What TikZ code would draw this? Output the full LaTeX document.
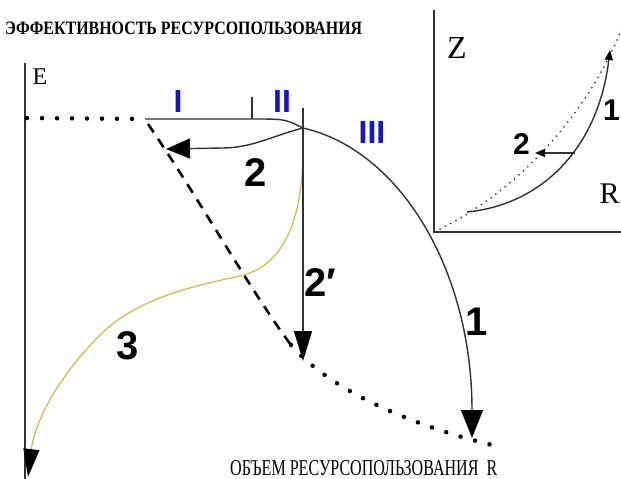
\documentclass[tikz,border=0pt]{standalone}
\usepackage{fontspec}
\usepackage{graphicx}
\setmainfont{Liberation Serif}
\newfontfamily\lsans{Liberation Sans}
\usetikzlibrary{arrows.meta}
\definecolor{lineclr}{RGB}{50,50,50}
\definecolor{yel}{RGB}{205,185,80}
\definecolor{romblue}{RGB}{20,20,200}
\begin{document}
\begin{tikzpicture}[x=1pt,y=-1pt,
  ln/.style={line width=1.4pt, draw=lineclr},
  bigtip/.style={-{Triangle[width=22pt,length=28pt,color=black]}},
  midtip/.style={-{Triangle[width=20pt,length=24pt,color=black]}},
  smalltip/.style={-{Triangle[width=8pt,length=10pt,color=black]}},
  num/.style={font=\lsans\bfseries\fontsize{40}{40}\selectfont, inner sep=0pt},
  roman/.style={font=\lsans\bfseries\fontsize{32}{32}\selectfont, text=romblue, inner sep=0pt},
  serifl/.style={inner sep=0pt},
  bigdots/.style={line width=4.5pt, dash pattern=on 0pt off 15pt, line cap=round, draw=black},
  dashln/.style={line width=2.6pt, dash pattern=on 10pt off 8pt, draw=black},
  finedots/.style={line width=2pt, dash pattern=on 0pt off 6pt, line cap=round, draw=black!75},
]
\path[use as bounding box, fill=white] (0,0) rectangle (621,479);
\clip (0,0) rectangle (621,479);

% titles
\node[serifl, anchor=south west] (title) at (5,35)
  {\resizebox{357pt}{12.5pt}{\bfseries ЭФФЕКТИВНОСТЬ РЕСУРСОПОЛЬЗОВАНИЯ}};
\node[serifl, anchor=south west] (xlabel) at (230,476)
  {\resizebox{267pt}{15pt}{ОБЪЕМ РЕСУРСОПОЛЬЗОВАНИЯ\ \ R}};
\node[serifl, font=\fontsize{24}{24}\selectfont] (E) at (40,77) {E};

% main axis
\coordinate (axtop) at (25,63);
\coordinate (axbot) at (25,479);
\draw[ln] (axtop) -- (axbot);

% key points
\coordinate (D0) at (27,118);
\coordinate (A) at (145,119);
\coordinate (T1) at (252,119);
\coordinate (T1top) at (252,97);
\coordinate (P) at (303,128);
\coordinate (Ptop) at (303,108);
\coordinate (E1) at (472,438);
\coordinate (E2) at (166,149);
\coordinate (E2p) at (303,361);
\coordinate (D1) at (148,124);
\coordinate (D2) at (291,345);
\coordinate (D3) at (492,445);
\coordinate (Y0) at (303,148);
\coordinate (Y1) at (240,276);
\coordinate (Y2) at (100,335);
\coordinate (E3) at (28,477);

% dotted initial line
\draw[bigdots] (D0) -- (A);
% solid top line and ticks
\draw[ln] (A) -- (T1) .. controls (285,119) .. (P);
\draw[ln] (T1) -- (T1top);

% dashed and dotted declining curve
\draw[dashln] (D1) .. controls (200,200) and (250,290) .. (D2);
\draw[bigdots] (D2) .. controls (330,390) and (410,425) .. (D3);

% yellow curve 3
\draw[line width=1.2pt, draw=yel, -{Triangle[width=16pt,length=28pt,color=black]}]
  (Y0) .. controls (303,235) and (275,268) .. (Y1)
  .. controls (205,284) and (140,295) .. (Y2)
  .. controls (60,375) and (35,420) .. (E3);

% arrow 2'
\draw[ln, -{Triangle[width=18pt,length=30pt,color=black]}] (Ptop) -- (E2p);
% arrow 1
\draw[ln, bigtip] (P) .. controls (400,150) and (472,270) .. (E1);
% arrow 2
\draw[ln, midtip] (P) .. controls (272,136) and (252,148) .. (222,148) -- (E2);

% labels
\node[roman] (rI) at (178,101) {I};
\node[roman] (rII) at (282,101) {II};
\node[roman] (rIII) at (372,132) {III};
\node[num] (n2) at (256,173) {2};
\node[num] (n2p) at (320,283) {2′};
\node[num] (n3) at (128,346) {3};
\node[num] (n1) at (477,322) {1};

% inset
\coordinate (Itop) at (434,10);
\coordinate (Icorner) at (434,232);
\coordinate (Iright) at (621,232);
\draw[ln] (Itop) -- (Icorner) -- (Iright);
\coordinate (F0) at (440,229);
\coordinate (F1) at (622,28);
\draw[finedots] (F0) .. controls (520,190) and (590,110) .. (F1);
\coordinate (S0) at (467,212);
\coordinate (S1) at (610,50);
\draw[ln, smalltip] (S0) .. controls (540,205) and (598,150) .. (S1);
\coordinate (Q0) at (575,153);
\coordinate (Q1) at (535,153);
\draw[ln, line width=1.2pt, smalltip] (Q0) -- (Q1);
\node[serifl, font=\fontsize{32}{32}\selectfont] (Z) at (457,48) {Z};
\node[serifl, font=\fontsize{30}{30}\selectfont, anchor=west] (Rin) at (599.5,194) {R};
\node[num, font=\lsans\bfseries\fontsize{30}{30}\selectfont, anchor=west] (i2) at (513,144) {2};
\node[num, font=\lsans\bfseries\fontsize{30}{30}\selectfont, anchor=west] (i1) at (603,110) {1};
\end{tikzpicture}
\end{document}
